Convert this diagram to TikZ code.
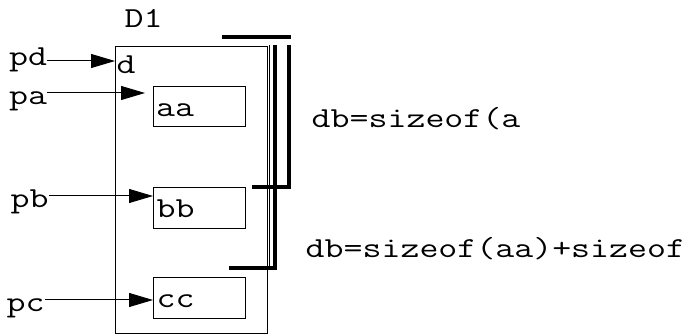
\documentclass[tikz,border=0pt]{standalone}
\usepackage{fontspec}
\newfontfamily\cour[FakeStretch=1.27]{Latin Modern Mono}
\usetikzlibrary{arrows.meta}
\tikzset{
  lbl/.style={font=\cour\fontsize{29}{29}\selectfont, inner sep=0pt, anchor=base west},
  boxr/.style={draw, line width=1.2pt, inner sep=0pt, anchor=north west},
  arr/.style={line width=1pt, -{Triangle[length=24pt,width=14pt]}},
  thick bar/.style={line width=4pt},
  thin/.style={line width=1pt}
}
\begin{document}
\begin{tikzpicture}[x=1pt,y=-1pt]
\useasboundingbox (0,0) rectangle (691,336);
% outer box
\node[boxr, minimum width=152pt, minimum height=287pt] (box) at (115,46) {};
\draw[thin] (269,45) -- (269,268);
% inner boxes
\node[boxr, minimum width=92pt, minimum height=40pt] (aa) at (153,86) {};
\node[boxr, minimum width=92pt, minimum height=41pt] (bb) at (153,187) {};
\node[boxr, minimum width=92pt, minimum height=41pt] (cc) at (153,277) {};
% texts
\node[lbl] (D1) at (124.5,28) {D1};
\node[lbl] (d) at (116.5,74) {d};
\node[lbl] (pd) at (9,66) {pd};
\node[lbl] (pa) at (9,105) {pa};
\node[lbl] (pb) at (10.5,208) {pb};
\node[lbl] (pc) at (6.5,312) {pc};
\node[lbl] (aat) at (156,117) {aa};
\node[lbl] (bbt) at (156.5,218) {bb};
\node[lbl] (cct) at (156.5,308) {cc};
\node[lbl] (db1) at (311.5,127.5) {db=sizeof(a};
\node[lbl] (db2) at (305.5,258) {db=sizeof(aa)+sizeof};
% arrows
\coordinate (pdE) at (115,61);
\coordinate (paE) at (145,93);
\coordinate (pbE) at (153,196);
\coordinate (pcE) at (153,300);
\draw[arr] (pd.east |- pdE) -- (pdE);
\draw[arr] (pa.east |- paE) -- (paE);
\draw[arr] (pb.east |- pbE) -- (pbE);
\draw[arr] (pc.east |- pcE) -- (pcE);
% thick brackets
\draw[thick bar] (222,37) -- (291,37);
\draw[thick bar] (289,45) -- (289,187) -- (252,187);
\draw[thick bar] (275,45) -- (275,268) -- (229,268);
\end{tikzpicture}
\end{document}
